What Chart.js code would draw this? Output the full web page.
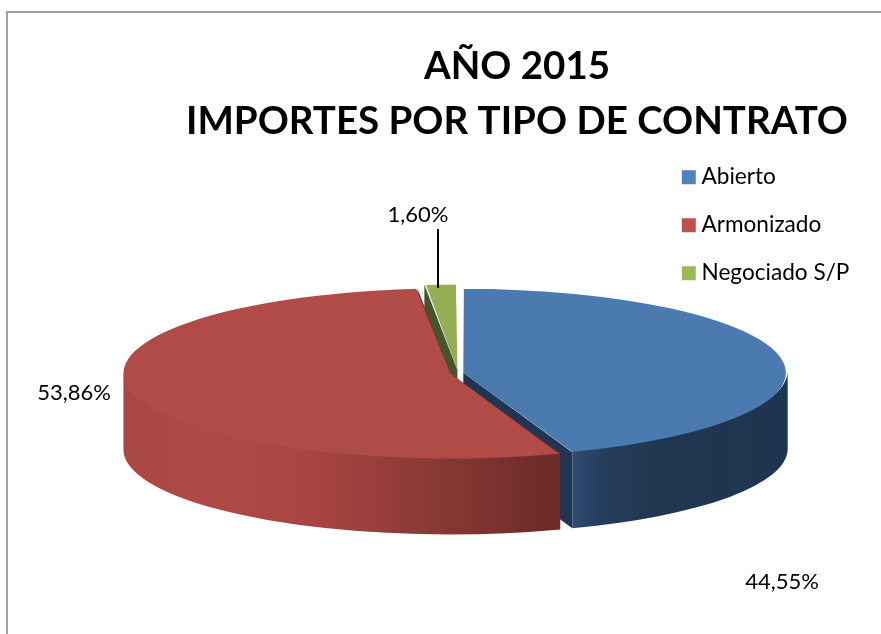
<!DOCTYPE html>
<html>
<head>
<meta charset="utf-8">
<title>Importes por tipo de contrato</title>
<script src="https://cdn.jsdelivr.net/npm/chart.js@4/dist/chart.umd.min.js"></script>
<style>
    html, body { margin: 0; padding: 0; background: #fff; overflow: hidden; }
    #wrap { width: 881px; height: 634px; }
    canvas { display: block; }
</style>
</head>
<body>
<div id="wrap"><canvas id="contratoChart" width="881" height="634"></canvas></div>
<script>
const categories = ['Abierto', 'Armonizado', 'Negociado S/P'];
const importes = [44.55, 53.86, 1.60];
const titleLines = ['AÑO 2015', 'IMPORTES POR TIPO DE CONTRATO'];

const topColors = ['#4a7ab0', '#b04b48', '#94ae54'];
const legendColors = ['#4f81bd', '#c0504d', '#9bbb59'];
const cutColors = ['#1f3552', '#6b2a27', '#46542a'];
// separacion de cada porcion (px de Chart.js)
const explode = [15, 22, 30];

// vista "3D" del pastel
const view = { cx: 458, cy: 373, rx: 319, ry: 83, depth: 76 };

// gradientes del lateral, de izquierda a derecha
const rimStops = [
    [[0, '#2f4d72'], [0.12, '#263f60'], [0.4, '#20364f'], [1, '#1f3450']],
    [[0, '#a84744'], [0.2, '#b04a47'], [0.42, '#a94542'], [0.7, '#8b3935'], [1, '#6b2a27']],
    [[0, '#46542a'], [1, '#46542a']]
];

// donde va cada etiqueta de porcentaje
const labelPos = [[782, 582], [74, 393], [418, 215]];

function fmtPct(v) {
    return v.toFixed(2).replace('.', ',') + '%';
}

function sliceGeom(arc, i) {
    const sx = view.rx / arc.outerRadius;
    const sy = view.ry / arc.outerRadius;
    const mid = (arc.startAngle + arc.endAngle) / 2;
    const off = explode[i] / 4;
    // ArcElement.draw desplaza la porcion y tambien le suma off al radio
    return {
        x: view.cx + Math.cos(mid) * off * sx,
        y: view.cy + Math.sin(mid) * off * sy,
        rx: (arc.outerRadius + off) * sx,
        ry: (arc.outerRadius + off) * sy
    };
}

const pie3d = {
    id: 'pie3d',
    beforeDraw(chart) {
        const ctx = chart.ctx;
        ctx.save();
        ctx.fillStyle = '#fff';
        ctx.fillRect(0, 0, chart.width, chart.height);
        ctx.strokeStyle = '#a0a0a0';
        ctx.lineWidth = 2;
        ctx.beginPath();
        ctx.moveTo(7, chart.height);
        ctx.lineTo(7, 12);
        ctx.lineTo(chart.width, 12);
        ctx.stroke();
        ctx.restore();
    },
    afterLayout(chart) {
        // leyenda arriba a la derecha, sin depender del area del grafico
        const lg = chart.legend;
        lg.left = 662;
        lg.right = 881;
        lg.top = 140.5;
        lg.bottom = 400;
    },
    beforeDatasetsDraw(chart) {
        const ctx = chart.ctx;
        const arcs = chart.getDatasetMeta(0).data;
        // paredes primero: verde, azul, rojo
        [2, 0, 1].forEach(function (i) {
            const arc = arcs[i];
            const g = sliceGeom(arc, i);
            const d = view.depth;

            // caras de corte
            ctx.fillStyle = cutColors[i];
            [arc.startAngle, arc.endAngle].forEach(function (a) {
                const px = g.x + Math.cos(a) * g.rx;
                const py = g.y + Math.sin(a) * g.ry;
                ctx.beginPath();
                ctx.moveTo(g.x, g.y);
                ctx.lineTo(px, py);
                ctx.lineTo(px, py + d);
                ctx.lineTo(g.x, g.y + d);
                ctx.closePath();
                ctx.fill();
            });

            // borde exterior, solo la parte de delante
            const a0 = Math.max(arc.startAngle, 0);
            const a1 = Math.min(arc.endAngle, Math.PI);
            if (a1 <= a0) return;
            const xa = g.x + Math.cos(a1) * g.rx;
            const xb = g.x + Math.cos(a0) * g.rx;
            const grad = ctx.createLinearGradient(xa, 0, xb, 0);
            rimStops[i].forEach(s => grad.addColorStop(s[0], s[1]));
            ctx.fillStyle = grad;
            ctx.beginPath();
            // el arco de arriba sube 2px para que no quede costura con la tapa
            ctx.ellipse(g.x, g.y - 2, g.rx, g.ry, 0, a0, a1);
            ctx.ellipse(g.x, g.y + d, g.rx, g.ry, 0, a1, a0, true);
            ctx.closePath();
            ctx.fill();
        });
    },
    beforeDatasetDraw(chart) {
        const arc = chart.getDatasetMeta(0).data[0];
        const ctx = chart.ctx;
        ctx.save();
        ctx.translate(view.cx, view.cy);
        ctx.scale(view.rx / arc.outerRadius, view.ry / arc.outerRadius);
        ctx.translate(-arc.x, -arc.y);
    },
    afterDatasetDraw(chart) {
        chart.ctx.restore();
    },
    afterDraw(chart) {
        const ctx = chart.ctx;
        ctx.save();
        ctx.fillStyle = '#000';
        ctx.font = '22px Lato';
        ctx.textAlign = 'center';
        ctx.textBaseline = 'middle';
        importes.forEach(function (v, i) {
            ctx.fillText(fmtPct(v), labelPos[i][0], labelPos[i][1]);
        });
        // linea guia de la porcion pequeña
        ctx.strokeStyle = '#000';
        ctx.lineWidth = 2;
        ctx.beginPath();
        ctx.moveTo(438, 229);
        ctx.lineTo(438, 288);
        ctx.stroke();
        ctx.restore();
    }
};

const chart = new Chart(document.getElementById('contratoChart').getContext('2d'), {
    type: 'pie',
    data: {
        labels: categories,
        datasets: [{
            data: importes,
            backgroundColor: topColors,
            borderWidth: 0,
            offset: explode
        }]
    },
    options: {
        responsive: false,
        animation: false,
        layout: { padding: { left: 153, top: 29 } },
        plugins: {
            title: {
                display: true,
                text: titleLines,
                color: '#000',
                font: { family: 'Lato', weight: 'bold', size: 38.5, lineHeight: 1.43 }
            },
            legend: {
                position: 'right',
                align: 'start',
                labels: {
                    font: { family: 'Lato', size: 22.6 },
                    color: '#000',
                    usePointStyle: true,
                    boxWidth: 2.8,
                    boxHeight: 14,
                    padding: 25.4,
                    generateLabels: function () {
                        return categories.map(function (c, i) {
                            return { text: c, fillStyle: legendColors[i], strokeStyle: legendColors[i], lineWidth: 0, pointStyle: 'rect', index: i };
                        });
                    }
                }
            },
            tooltip: { enabled: false }
        }
    },
    plugins: [pie3d]
});
</script>
</body>
</html>
